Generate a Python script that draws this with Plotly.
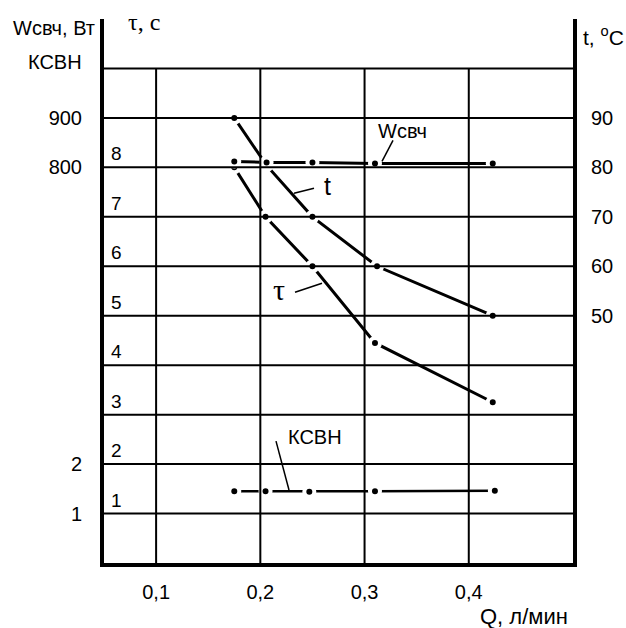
import plotly.graph_objects as go

# ---------------- data ----------------
Q_t   = [0.175, 0.206, 0.25, 0.312, 0.423]
t_C   = [90, 80.4, 70, 60, 50]

Q_tau = [0.175, 0.205, 0.25, 0.31, 0.423]
tau_s = [8.0, 7.0, 6.0, 4.45, 3.25]

Q_W   = [0.175, 0.206, 0.25, 0.31, 0.423]
W_Vt  = [812, 810, 810, 808, 808]

Q_k   = [0.175, 0.205, 0.247, 0.31, 0.425]
KSVN  = [1.45, 1.45, 1.44, 1.45, 1.46]

x_ticks = [0.1, 0.2, 0.3, 0.4]
x_tick_text = ["0,1", "0,2", "0,3", "0,4"]
tau_ticks = [1, 2, 3, 4, 5, 6, 7, 8]
left_vals = [1, 2, 8, 9]
left_text = ["1", "2", "800", "900"]
t_ticks = [50, 60, 70, 80, 90]
grid_y = [1, 2, 3, 4, 5, 6, 7, 8, 9, 10]

# ---------------- layout geometry ----------------
W_PX, H_PX = 626, 628
L, R, T, B = 104, 53, 18.5, 65
PW, PH = W_PX - L - R, H_PX - T - B

def px(x, y):
    return (x - L) / PW, (H_PX - B - y) / PH

FONT = "Liberation Sans, Arial, sans-serif"
SERIF = "Liberation Serif, Times New Roman, serif"

fig = go.Figure()

def add_series(xs, ys, yaxis, lw):
    fig.add_trace(go.Scatter(
        x=xs, y=ys, yaxis=yaxis, mode="lines+markers",
        line=dict(color="black", width=lw),
        marker=dict(size=10, color="black", line=dict(color="white", width=4)),
        hoverinfo="skip", showlegend=False))

add_series(Q_t, t_C, "y2", 3)
add_series(Q_tau, tau_s, "y", 3)
add_series(Q_W, W_Vt, "y3", 3)
add_series(Q_k, KSVN, "y", 2.6)

shapes = []
for xv in x_ticks:
    shapes.append(dict(type="line", xref="x", yref="y", x0=xv, x1=xv, y0=0, y1=10,
                       line=dict(color="black", width=2), layer="above"))
for yv in grid_y:
    shapes.append(dict(type="line", xref="x", yref="y", x0=0.05, x1=0.5, y0=yv, y1=yv,
                       line=dict(color="black", width=2), layer="above"))

# leader lines
for (a, b) in [((294, 193), (314, 188)), ((295, 292), (322, 283)),
               ((382, 161), (393, 140)), ((276, 441), (289, 490))]:
    x0, y0 = px(*a)
    x1, y1 = px(*b)
    shapes.append(dict(type="line", xref="paper", yref="paper", x0=x0, y0=y0, x1=x1, y1=y1,
                       line=dict(color="black", width=1.5), layer="above"))

annotations = []

def label(text, x, y, size=20, family=FONT, xanchor="center"):
    xp, yp = px(x, y)
    annotations.append(dict(text=text, x=xp, y=yp, xref="paper", yref="paper",
                            xanchor=xanchor, yanchor="middle", showarrow=False,
                            font=dict(size=size, family=family, color="black")))

label("Wсвч, Вт", 54, 28)
label("КСВН", 55, 62)
label("τ, с", 144, 22, size=24, family=SERIF)
label("t, <sup>o</sup>C", 603, 36, size=21)
label("Q, л/мин", 524, 617, size=22)
label("t", 327, 186, size=25)
label("τ", 279, 289, size=30, family=SERIF)
label("Wсвч", 402, 131)
label("КСВН", 315, 437)

# inner tau scale labels (just above each grid line)
for v in tau_ticks:
    annotations.append(dict(text=str(v), x=0.05, y=v, xref="x", yref="y",
                            xanchor="left", yanchor="bottom", xshift=5, yshift=1,
                            showarrow=False,
                            font=dict(size=19, family=FONT, color="black")))

fig.update_layout(
    width=W_PX, height=H_PX,
    margin=dict(l=L, r=R, t=T, b=B),
    paper_bgcolor="white", plot_bgcolor="white",
    font=dict(family=FONT, size=20, color="black"),
    xaxis=dict(range=[0.05, 0.5], showgrid=False, zeroline=False,
               showline=True, linewidth=4, linecolor="black",
               tickvals=x_ticks, ticktext=x_tick_text, ticks="",
               ticklabelstandoff=8, tickfont=dict(size=20)),
    yaxis=dict(range=[0, 11], showgrid=False, zeroline=False,
               showline=True, linewidth=4, linecolor="black",
               tickvals=left_vals, ticktext=left_text, ticks="",
               ticklabelstandoff=14, tickfont=dict(size=20)),
    yaxis2=dict(range=[0, 110], overlaying="y", side="right", showgrid=False,
                zeroline=False, showline=True, linewidth=4, linecolor="black",
                tickvals=t_ticks, ticks="", ticklabelstandoff=10,
                tickfont=dict(size=20)),
    yaxis3=dict(range=[0, 1100], overlaying="y", visible=False),
    shapes=shapes,
    annotations=annotations,
)

fig.write_html("out.html")
